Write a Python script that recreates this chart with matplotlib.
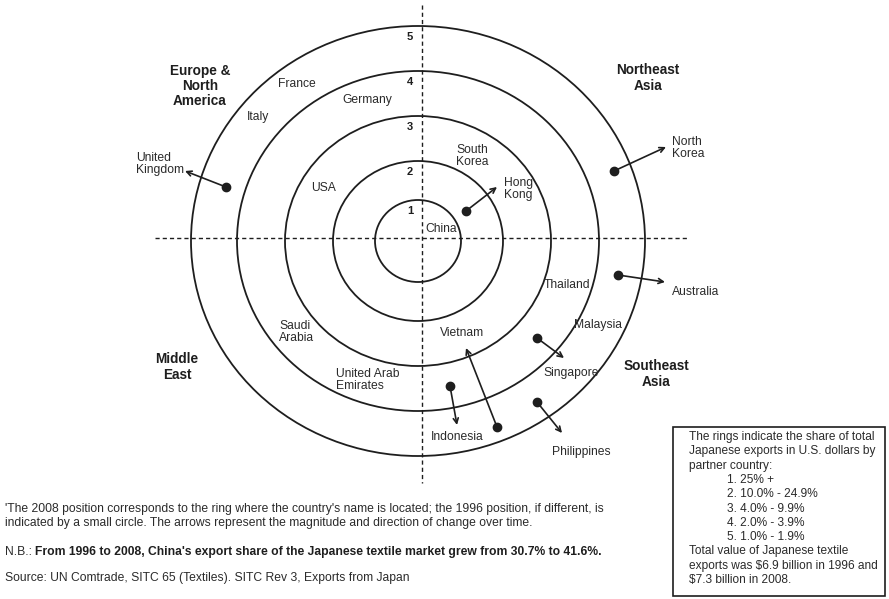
#!/usr/bin/env python3
import matplotlib

matplotlib.use("Agg")

import matplotlib.pyplot as plt
from matplotlib.patches import Ellipse, Rectangle

# ring numbers (1 = largest share, 5 = smallest)
RING_IDS = [1, 2, 3, 4, 5]

# 2008 positions of the country names
COUNTRIES = [
    "China", "Hong\nKong", "South\nKorea", "North\nKorea", "France", "Germany",
    "Italy", "United\nKingdom", "USA", "Saudi\nArabia", "United Arab\nEmirates",
    "Thailand", "Australia", "Malaysia", "Vietnam", "Singapore", "Indonesia",
    "Philippines",
]
COUNTRY_X = [425, 504, 456, 672, 297, 367, 258, 136, 324, 279, 336,
             567, 672, 598, 462, 571, 457, 581]
COUNTRY_Y = [229, 189, 156, 148, 84, 100, 117, 164, 188, 332, 380,
             285, 292, 325, 333, 373, 437, 452]
COUNTRY_HA = ["left", "left", "left", "left", "center", "center",
              "center", "left", "center", "left", "left",
              "center", "left", "center", "center", "center", "center",
              "center"]

# countries that moved between rings: 1996 dot -> 2008 arrow tip
MOVERS = ["Hong Kong", "North Korea", "United Kingdom", "Australia",
          "Singapore", "Indonesia", "Vietnam", "Philippines"]
DOT_X = [466, 614, 226, 618, 537, 450, 497, 537]
DOT_Y = [211, 171, 187, 275, 338, 386, 427, 402]
TIP_X = [497, 666, 185, 665, 564, 457, 466, 562]
TIP_Y = [187, 147, 171, 282, 358, 425, 348, 433]

REGIONS = ["Europe &\nNorth\nAmerica", "Northeast\nAsia", "Middle\nEast",
           "Southeast\nAsia"]
REGION_X = [200, 648, 177, 656]
REGION_Y = [86, 78, 367, 374]

BOX_LINES = [
    "The rings indicate the share of total",
    "Japanese exports in U.S. dollars by",
    "partner country:",
    "1. 25% +",
    "2. 10.0% - 24.9%",
    "3. 4.0% - 9.9%",
    "4. 2.0% - 3.9%",
    "5. 1.0% - 1.9%",
    "Total value of Japanese textile",
    "exports was $6.9 billion in 1996 and",
    "$7.3 billion in 2008.",
]

FOOTNOTE = ("'The 2008 position corresponds to the ring where the country's name "
            "is located; the 1996 position, if different, is\nindicated by a small "
            "circle. The arrows represent the magnitude and direction of change over time.")
NB_LABEL = "N.B.: "
NB_TEXT = ("From 1996 to 2008, China's export share of the Japanese textile market "
           "grew from 30.7% to 41.6%.")
SOURCE = "Source: UN Comtrade, SITC 65 (Textiles). SITC Rev 3, Exports from Japan"

# layout (pixels)
CX, CY = 418, 241
RX = [43, 85, 133, 181, 227]
RY = [41, 80, 125, 170, 215]
INK = "#1e1e1e"
TXT = "#2b2b2b"

plt.rcParams["font.family"] = ["Liberation Sans", "DejaVu Sans"]

fig = plt.figure(figsize=(8.89, 5.99), dpi=100)
ax = fig.add_axes([0, 0, 1, 1])
ax.set_xlim(0, 889)
ax.set_ylim(599, 0)
ax.axis("off")

for rid, rx, ry in zip(RING_IDS, RX, RY):
    ax.add_patch(Ellipse((CX, CY), 2 * rx, 2 * ry, fill=False, ec=INK, lw=1.3))
    ax.text(410, CY - ry + 11, str(rid), ha="center", va="center",
            fontsize=8, fontweight="bold", color=INK)

# quadrant dividers
ax.plot([422, 422], [5, 483], ls=(0, (3, 2.2)), color=INK, lw=1.0)
ax.plot([155, 689], [238, 238], ls=(0, (3, 2.2)), color=INK, lw=1.0)

for name, x, y, ha in zip(COUNTRIES, COUNTRY_X, COUNTRY_Y, COUNTRY_HA):
    ax.text(x, y, name, ha=ha, va="center", fontsize=8.7, color=TXT,
            linespacing=1.05)

for dx, dy, tx, ty in zip(DOT_X, DOT_Y, TIP_X, TIP_Y):
    ax.plot(dx, dy, "o", color=INK, ms=6)
    ax.annotate("", xy=(tx, ty), xytext=(dx, dy),
                arrowprops=dict(arrowstyle="->", color=INK, lw=1.2,
                                shrinkA=0, shrinkB=0, mutation_scale=9))

for name, x, y in zip(REGIONS, REGION_X, REGION_Y):
    ax.text(x, y, name, ha="center", va="center", fontsize=9.8,
            fontweight="bold", color=INK, linespacing=1.1)

# legend box
ax.add_patch(Rectangle((673, 427), 212, 169, fill=False, ec=INK, lw=1.2))
for i, line in enumerate(BOX_LINES):
    x = 727 if 3 <= i <= 7 else 689
    ax.text(x, 437 + i * 14.3, line, ha="left", va="center", fontsize=8.6,
            color=TXT)

ax.text(5, 516, FOOTNOTE, ha="left", va="center", fontsize=8.7, color=TXT,
        linespacing=1.3)
nb = ax.text(5, 552, NB_LABEL, ha="left", va="center", fontsize=8.7, color=TXT)
ax.annotate(NB_TEXT, xy=(1, 0.5), xycoords=nb, ha="left", va="center",
            fontsize=8.7, fontweight="bold", color=INK)
ax.text(5, 578, SOURCE, ha="left", va="center", fontsize=8.7, color=TXT)

fig.savefig("out.png", dpi=100)
